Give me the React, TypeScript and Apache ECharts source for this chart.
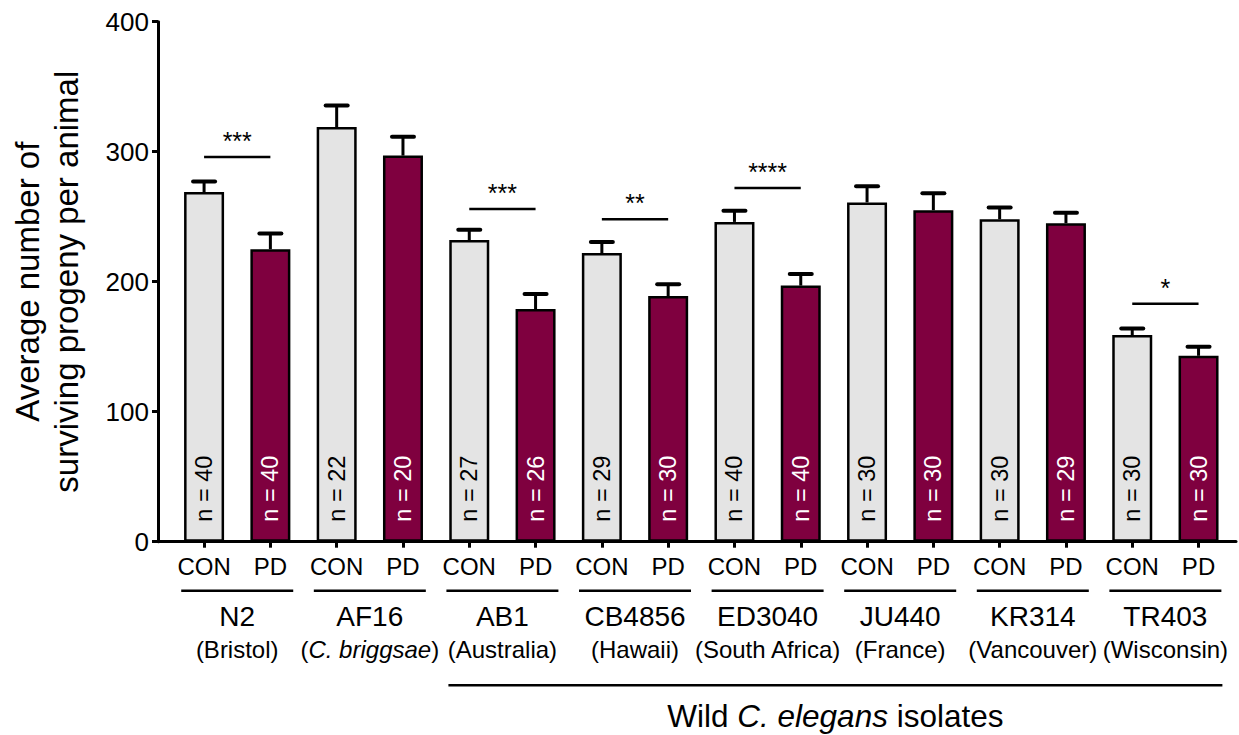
import React, { useEffect, useRef } from "react";
import * as echarts from "echarts";

const strains = ["N2", "AF16", "AB1", "CB4856", "ED3040", "JU440", "KR314", "TR403"];
const origins = ["(Bristol)", "({i|C. briggsae})", "(Australia)", "(Hawaii)", "(South Africa)", "(France)", "(Vancouver)", "(Wisconsin)"];
const treatments = ["CON", "PD"];
const conMean = [269, 319, 232, 222, 246, 261, 248, 159];
const conSem = [8, 16.5, 8, 8.5, 8.5, 12.5, 9, 5];
const pdMean = [225, 297, 179, 189, 197, 255, 245, 143];
const pdSem = [12, 14.5, 11.5, 9, 9, 13, 8, 7];
const conN = [40, 22, 27, 29, 40, 30, 30, 30];
const pdN = [40, 20, 26, 30, 40, 30, 29, 30];
const sigGroups = [0, 2, 3, 4, 7];
const sigLevel = [296, 256, 248, 272, 183];
const sigStars = ["***", "***", "**", "****", "*"];
const wildFirst = 2;
const wildLast = 7;
const wildLabel = "Wild {i|C. elegans} isolates";
const yAxisTitle = "Average number of\nsurviving progeny per animal";

const CON_COLOR = "#e4e4e4";
const PD_COLOR = "#7f003f";
const FONT = "Liberation Sans, Arial, Helvetica, sans-serif";

export default function App() {
  const ref = useRef<HTMLDivElement>(null);

  useEffect(() => {
    if (!ref.current) return;
    const chart = echarts.init(ref.current, null, { renderer: "svg" });

    const barData: any[] = [];
    const errData: number[][] = [];
    const nAll: number[] = [];
    strains.forEach((_, g) => {
      barData.push({ value: [2 * g, conMean[g]], itemStyle: { color: CON_COLOR }, label: { color: "#000" } });
      barData.push({ value: [2 * g + 1, pdMean[g]], itemStyle: { color: PD_COLOR }, label: { color: "#fff" } });
      errData.push([2 * g, conMean[g], conSem[g]]);
      errData.push([2 * g + 1, pdMean[g], pdSem[g]]);
      nAll.push(conN[g], pdN[g]);
    });
    const tickVals = barData.map((_, i) => i);
    const sigData = sigGroups.map((g, i) => [2 * g, 2 * g + 1, sigLevel[i]]);
    const groupData = strains.map((_, g) => [2 * g + 0.5, 0]);

    const option: any = {
      animation: false,
      grid: { left: 152, right: 3, top: 21.7, bottom: 193.3, containLabel: false },
      xAxis: {
        type: "value",
        min: -0.695,
        max: 15.565,
        splitLine: { show: false },
        axisLine: { show: true, onZero: false, lineStyle: { color: "#000", width: 3 } },
        axisTick: { show: true, customValues: tickVals, length: 6, lineStyle: { color: "#000", width: 3 } },
        axisLabel: {
          show: true,
          customValues: tickVals,
          formatter: (v: number) => treatments[Math.round(v) % 2],
          color: "#000",
          fontSize: 24,
          fontFamily: FONT,
          margin: 13,
        },
      },
      yAxis: {
        type: "value",
        min: 0,
        max: 400,
        interval: 100,
        splitLine: { show: false },
        axisLine: { show: true, onZero: false, lineStyle: { color: "#000", width: 3 } },
        axisTick: { show: true, length: 6, lineStyle: { color: "#000", width: 3 } },
        axisLabel: { color: "#000", fontSize: 26, fontFamily: FONT, margin: 9 },
        name: yAxisTitle,
        nameLocation: "middle",
        nameGap: 72,
        nameTextStyle: { color: "#000", fontSize: 33, fontFamily: FONT, lineHeight: 39 },
      },
      series: [
        {
          type: "bar",
          data: barData,
          barWidth: 40,
          itemStyle: { borderColor: "#000", borderWidth: 2.5 },
          label: {
            show: true,
            position: "insideBottom",
            rotate: 90,
            align: "left",
            verticalAlign: "middle",
            distance: 20,
            fontSize: 23.5,
            fontFamily: FONT,
            formatter: (p: any) => `n = ${nAll[p.dataIndex]}`,
          },
          z: 2,
        },
        {
          type: "custom",
          data: errData,
          z: 3,
          renderItem: (params: any, api: any) => {
            const x = api.value(0);
            const m = api.value(1);
            const e = api.value(2);
            const base = api.coord([x, m]);
            const top = api.coord([x, m + e]);
            return {
              type: "group",
              children: [
                { type: "line", shape: { x1: base[0], y1: base[1], x2: top[0], y2: top[1] }, style: { stroke: "#000", lineWidth: 3 } },
                { type: "line", shape: { x1: top[0] - 11, y1: top[1], x2: top[0] + 11, y2: top[1] }, style: { stroke: "#000", lineWidth: 4, lineCap: "round" } },
              ],
            };
          },
        },
        {
          type: "custom",
          data: sigData,
          z: 3,
          clip: false,
          renderItem: (params: any, api: any) => {
            const a = api.coord([api.value(0), api.value(2)]);
            const b = api.coord([api.value(1), api.value(2)]);
            return {
              type: "group",
              children: [
                { type: "line", shape: { x1: a[0], y1: a[1], x2: b[0], y2: b[1] }, style: { stroke: "#000", lineWidth: 2.5 } },
                {
                  type: "text",
                  style: {
                    text: sigStars[params.dataIndex],
                    x: (a[0] + b[0]) / 2,
                    y: a[1] - 16,
                    align: "center",
                    verticalAlign: "middle",
                    fontSize: 25,
                    fontFamily: FONT,
                    fill: "#000",
                  },
                },
              ],
            };
          },
        },
        {
          type: "custom",
          data: groupData,
          z: 3,
          clip: false,
          renderItem: (params: any, api: any) => {
            const p = api.coord([api.value(0), 0]);
            const g = params.dataIndex;
            return {
              type: "group",
              children: [
                { type: "line", shape: { x1: p[0] - 56, y1: p[1] + 49, x2: p[0] + 56, y2: p[1] + 49 }, style: { stroke: "#000", lineWidth: 2.5 } },
                {
                  type: "text",
                  style: { text: strains[g], x: p[0], y: p[1] + 74.3, align: "center", verticalAlign: "middle", fontSize: 28, fontFamily: FONT, fill: "#000" },
                },
                {
                  type: "text",
                  style: {
                    text: origins[g],
                    x: p[0],
                    y: p[1] + 108,
                    align: "center",
                    verticalAlign: "middle",
                    fontSize: 24,
                    fontFamily: FONT,
                    fill: "#000",
                    rich: { i: { fontStyle: "italic", fontSize: 24, fontFamily: FONT, fill: "#000" } },
                  },
                },
              ],
            };
          },
        },
        {
          type: "custom",
          data: [[2 * wildFirst + 0.5, 2 * wildLast + 0.5]],
          z: 3,
          clip: false,
          renderItem: (params: any, api: any) => {
            const a = api.coord([api.value(0), 0]);
            const b = api.coord([api.value(1), 0]);
            const x1 = a[0] - 54;
            const x2 = b[0] + 57;
            return {
              type: "group",
              children: [
                { type: "line", shape: { x1, y1: a[1] + 143.5, x2, y2: a[1] + 143.5 }, style: { stroke: "#000", lineWidth: 2.5 } },
                {
                  type: "text",
                  style: {
                    text: wildLabel,
                    x: (x1 + x2) / 2,
                    y: a[1] + 174.3,
                    align: "center",
                    verticalAlign: "middle",
                    fontSize: 31.5,
                    fontFamily: FONT,
                    fill: "#000",
                    rich: { i: { fontStyle: "italic", fontSize: 31.5, fontFamily: FONT, fill: "#000" } },
                  },
                },
              ],
            };
          },
        },
      ],
    };

    chart.setOption(option);
    return () => chart.dispose();
  }, []);

  return (
    <div
      ref={ref}
      style={{ position: "absolute", left: 0, top: 0, width: 1239, height: 735, background: "#fff" }}
    />
  );
}
